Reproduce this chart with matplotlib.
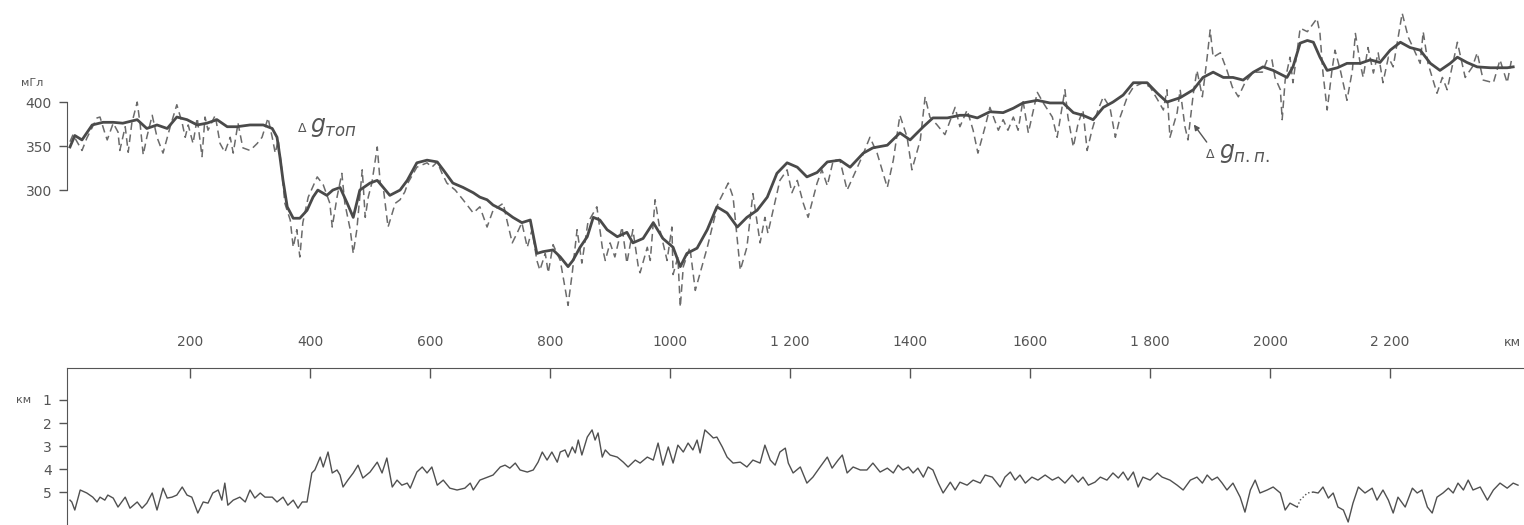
import matplotlib.pyplot as plt

# профиль: расстояние, км / аномалия, мГл
g_top = [(0, 349), (8, 362), (20, 357), (37, 374), (55, 377), (72, 377), (88, 376), (112, 380),
         (128, 370), (145, 374), (162, 370), (178, 383), (195, 380), (212, 374), (228, 376),
         (245, 380), (262, 372), (278, 372), (300, 374), (322, 374), (337, 370), (345, 360),
         (350, 337), (355, 311), (362, 281), (372, 268), (383, 268), (395, 277), (405, 292),
         (413, 300), (428, 294), (438, 300), (450, 303), (462, 285), (472, 269), (483, 300),
         (500, 308), (512, 311), (522, 303), (533, 294), (550, 300), (562, 311), (578, 331),
         (595, 334), (612, 332), (622, 323), (638, 308), (655, 303), (672, 297), (683, 292),
         (695, 289), (705, 283), (722, 277), (738, 269), (753, 263), (767, 266), (778, 228),
         (788, 230), (805, 232), (817, 224), (830, 213), (838, 220), (850, 235), (862, 247),
         (872, 269), (883, 266), (895, 255), (912, 247), (928, 252), (938, 240), (955, 245),
         (972, 263), (988, 245), (1005, 235), (1017, 213), (1028, 228), (1045, 234), (1062, 255),
         (1078, 281), (1095, 274), (1112, 258), (1128, 269), (1145, 277), (1162, 292), (1178, 319),
         (1195, 331), (1212, 326), (1228, 315), (1245, 320), (1262, 332), (1283, 334), (1300, 326),
         (1322, 342), (1338, 348), (1362, 351), (1383, 365), (1400, 357), (1422, 372), (1438, 382),
         (1462, 382), (1483, 385), (1495, 385), (1512, 382), (1533, 389), (1555, 388), (1572, 393),
         (1588, 399), (1612, 402), (1633, 399), (1655, 399), (1672, 388), (1688, 385), (1705, 380),
         (1722, 394), (1738, 400), (1755, 408), (1772, 422), (1795, 422), (1812, 410), (1828, 400),
         (1850, 405), (1872, 414), (1888, 428), (1905, 434), (1922, 428), (1938, 428), (1955, 425),
         (1972, 434), (1988, 440), (2005, 436), (2028, 428), (2038, 440), (2050, 467), (2062, 470),
         (2072, 468), (2083, 451), (2095, 436), (2112, 439), (2128, 444), (2150, 444), (2167, 448),
         (2183, 445), (2200, 459), (2217, 468), (2233, 462), (2250, 459), (2267, 444), (2283, 436),
         (2300, 444), (2312, 451), (2328, 445), (2345, 440), (2367, 439), (2395, 439), (2405, 440)]

g_pp = [(0, 355), (5, 363), (20, 345), (28, 359), (45, 382), (50, 383), (58, 365), (62, 357),
        (72, 376), (80, 366), (83, 345), (92, 372), (97, 343), (103, 376), (112, 400), (117, 374),
        (122, 340), (128, 360), (137, 385), (145, 360), (155, 342), (167, 372), (178, 397),
        (187, 376), (192, 360), (197, 374), (205, 353), (212, 382), (220, 338), (225, 383),
        (230, 368), (242, 385), (250, 353), (258, 343), (267, 360), (272, 342), (280, 376),
        (288, 348), (300, 345), (312, 353), (320, 360), (330, 382), (337, 360), (342, 342),
        (347, 357), (353, 323), (358, 285), (367, 266), (372, 235), (378, 255), (383, 224),
        (388, 263), (397, 292), (412, 315), (422, 306), (433, 285), (437, 258), (445, 292),
        (453, 319), (458, 285), (467, 255), (472, 228), (478, 255), (487, 323), (492, 269),
        (497, 292), (503, 308), (512, 349), (517, 308), (522, 303), (530, 258), (542, 285),
        (550, 289), (558, 298), (563, 308), (578, 326), (595, 331), (603, 326), (612, 332),
        (620, 319), (628, 308), (642, 300), (655, 289), (672, 274), (683, 281), (695, 258),
        (705, 277), (722, 285), (728, 266), (737, 240), (745, 251), (753, 263), (762, 235),
        (770, 255), (778, 220), (783, 209), (792, 228), (797, 206), (805, 238), (817, 220),
        (830, 169), (837, 206), (845, 255), (853, 217), (863, 263), (878, 281), (887, 235),
        (892, 220), (900, 240), (908, 224), (920, 258), (928, 217), (938, 255), (947, 213),
        (950, 206), (962, 235), (967, 220), (975, 289), (983, 255), (995, 220), (1003, 258),
        (1005, 204), (1013, 224), (1017, 167), (1022, 213), (1033, 235), (1042, 186), (1062, 235),
        (1080, 285), (1097, 308), (1105, 292), (1117, 209), (1128, 235), (1138, 296), (1150, 240),
        (1158, 269), (1163, 251), (1183, 311), (1195, 323), (1203, 297), (1212, 311), (1222, 285),
        (1230, 269), (1245, 308), (1253, 323), (1262, 305), (1272, 334), (1283, 334), (1295, 300),
        (1305, 315), (1320, 338), (1333, 360), (1345, 342), (1362, 303), (1372, 334), (1383, 385),
        (1395, 360), (1403, 323), (1417, 357), (1425, 406), (1433, 383), (1445, 374), (1458, 363),
        (1475, 394), (1483, 372), (1495, 391), (1505, 368), (1513, 342), (1525, 372), (1533, 394),
        (1547, 368), (1555, 380), (1563, 368), (1572, 383), (1580, 368), (1588, 402), (1597, 365),
        (1612, 411), (1622, 399), (1637, 383), (1645, 360), (1658, 414), (1663, 383), (1672, 349),
        (1680, 376), (1688, 391), (1695, 345), (1703, 368), (1713, 391), (1722, 406), (1733, 394),
        (1742, 360), (1750, 383), (1762, 406), (1772, 417), (1788, 422), (1800, 417), (1813, 402),
        (1822, 391), (1828, 414), (1833, 360), (1845, 388), (1850, 414), (1858, 372), (1863, 357),
        (1872, 410), (1878, 436), (1887, 406), (1895, 451), (1900, 482), (1905, 451), (1917, 456),
        (1928, 436), (1937, 417), (1947, 406), (1958, 422), (1972, 434), (1987, 434), (1995, 448),
        (2003, 448), (2008, 428), (2017, 414), (2020, 380), (2025, 425), (2033, 451), (2038, 422),
        (2050, 484), (2062, 480), (2078, 495), (2083, 478), (2088, 433), (2095, 391), (2103, 436),
        (2108, 459), (2117, 436), (2128, 402), (2137, 436), (2142, 478), (2150, 444), (2155, 428),
        (2163, 462), (2172, 433), (2180, 456), (2188, 422), (2197, 451), (2205, 440), (2220, 501),
        (2230, 474), (2242, 456), (2250, 444), (2255, 480), (2263, 444), (2278, 410), (2287, 428),
        (2295, 414), (2312, 468), (2325, 428), (2337, 440), (2345, 456), (2355, 425), (2372, 422),
        (2383, 448), (2395, 422), (2403, 451)]

# глубина, км
depth = [(0, 5.35), (3, 5.43), (8, 5.78), (17, 4.91), (28, 5.04), (38, 5.22), (45, 5.43), (50, 5.22),
         (58, 5.35), (63, 5.13), (72, 5.26), (80, 5.65), (92, 5.22), (100, 5.70), (112, 5.43),
         (120, 5.70), (128, 5.48), (137, 5.04), (145, 5.78), (155, 4.83), (162, 5.26), (170, 5.22),
         (178, 5.13), (187, 4.78), (195, 5.13), (203, 5.22), (213, 5.91), (222, 5.43), (230, 5.48),
         (238, 5.04), (247, 4.91), (253, 5.35), (258, 4.61), (263, 5.57), (272, 5.35), (283, 5.22),
         (292, 5.43), (300, 4.91), (308, 5.26), (317, 5.04), (325, 5.22), (337, 5.22), (345, 5.43),
         (355, 5.22), (363, 5.57), (372, 5.35), (380, 5.70), (387, 5.43), (395, 5.43), (403, 4.17),
         (408, 4.04), (417, 3.48), (422, 3.91), (430, 3.26), (437, 4.17), (445, 4.04), (450, 4.26),
         (455, 4.78), (463, 4.48), (472, 4.17), (480, 3.83), (488, 4.39), (500, 4.13), (512, 3.70),
         (520, 4.17), (528, 3.52), (537, 4.78), (545, 4.48), (553, 4.70), (562, 4.61), (567, 4.83),
         (578, 4.13), (587, 3.91), (595, 4.17), (603, 3.91), (612, 4.70), (622, 4.48), (633, 4.83),
         (645, 4.91), (658, 4.83), (667, 4.61), (672, 4.91), (683, 4.48), (705, 4.26), (717, 3.91),
         (725, 3.83), (733, 3.96), (742, 3.74), (750, 4.04), (762, 4.13), (772, 4.04), (780, 3.70),
         (787, 3.26), (795, 3.61), (803, 3.26), (812, 3.70), (817, 3.26), (825, 3.17), (830, 3.48),
         (837, 3.04), (842, 3.30), (847, 2.74), (853, 3.39), (862, 2.61), (870, 2.30), (875, 2.74),
         (880, 2.43), (887, 3.48), (892, 3.17), (900, 3.39), (912, 3.48), (922, 3.70), (930, 3.91),
         (942, 3.61), (950, 3.74), (962, 3.48), (972, 3.61), (980, 2.87), (988, 3.83), (997, 3.04),
         (1005, 3.74), (1013, 2.96), (1022, 3.26), (1030, 2.87), (1038, 3.17), (1045, 2.74),
         (1050, 3.30), (1058, 2.30), (1067, 2.52), (1072, 2.65), (1078, 2.61), (1087, 3.04),
         (1095, 3.48), (1105, 3.74), (1117, 3.70), (1128, 3.91), (1138, 3.61), (1150, 3.74),
         (1158, 2.96), (1167, 3.61), (1175, 3.83), (1183, 3.26), (1192, 3.09), (1197, 3.74),
         (1205, 4.17), (1217, 3.91), (1228, 4.61), (1238, 4.35), (1250, 3.91), (1262, 3.48),
         (1270, 3.96), (1280, 3.61), (1287, 3.39), (1295, 4.17), (1305, 3.91), (1317, 4.04),
         (1328, 4.04), (1338, 3.74), (1350, 4.13), (1362, 3.96), (1372, 4.17), (1380, 3.83),
         (1388, 4.04), (1397, 3.91), (1405, 4.17), (1413, 3.96), (1422, 4.35), (1430, 3.91),
         (1438, 4.04), (1447, 4.61), (1455, 5.04), (1467, 4.57), (1475, 4.91), (1483, 4.57),
         (1495, 4.70), (1505, 4.48), (1517, 4.61), (1525, 4.26), (1537, 4.35), (1545, 4.61),
         (1550, 4.78), (1558, 4.35), (1567, 4.13), (1575, 4.48), (1583, 4.26), (1592, 4.61),
         (1603, 4.35), (1613, 4.48), (1625, 4.26), (1637, 4.48), (1647, 4.35), (1658, 4.61),
         (1670, 4.26), (1680, 4.57), (1688, 4.35), (1697, 4.70), (1708, 4.57), (1717, 4.35),
         (1728, 4.48), (1738, 4.17), (1747, 4.39), (1755, 4.13), (1763, 4.48), (1772, 4.13),
         (1780, 4.78), (1788, 4.35), (1800, 4.48), (1812, 4.17), (1820, 4.35), (1833, 4.48),
         (1845, 4.70), (1855, 4.91), (1867, 4.48), (1878, 4.35), (1887, 4.61), (1895, 4.26),
         (1903, 4.48), (1912, 4.35), (1920, 4.61), (1928, 4.91), (1938, 4.61), (1950, 5.22),
         (1958, 5.87), (1967, 4.91), (1975, 4.48), (1983, 5.04), (1995, 4.91), (2005, 4.78),
         (2017, 5.04), (2025, 5.78), (2033, 5.48), (2045, 5.65), (2050, 5.35), (2062, 5.04),
         (2072, 5.00), (2080, 5.04), (2088, 4.78), (2097, 5.26), (2105, 5.04), (2113, 5.65),
         (2122, 5.78), (2130, 6.30), (2138, 5.48), (2147, 4.78), (2158, 5.04), (2170, 4.83),
         (2178, 5.35), (2188, 4.91), (2197, 5.35), (2205, 5.91), (2213, 5.22), (2225, 5.65),
         (2237, 4.83), (2245, 5.04), (2253, 4.91), (2262, 5.65), (2270, 5.91), (2278, 5.22),
         (2288, 5.04), (2297, 4.83), (2305, 5.04), (2313, 4.61), (2322, 4.91), (2330, 4.48),
         (2338, 4.91), (2350, 4.78), (2362, 5.35), (2372, 4.91), (2383, 4.61), (2395, 4.83),
         (2405, 4.61), (2413, 4.70)]
dotted_from, dotted_to = 2045, 2072   # участок, проведённый пунктиром

km_ticks = [200, 400, 600, 800, 1000, 1200, 1400, 1600, 1800, 2000, 2200]
km_labels = ['200', '400', '600', '800', '1000', '1 200', '1400', '1600', '1 800', '2000', '2 200']
g_ticks = [300, 350, 400]
depth_ticks = [1, 2, 3, 4, 5]

ink = '#555555'
W, H = 1524, 525

fig = plt.figure(figsize=(W / 100, H / 100), dpi=100)
ax = fig.add_axes([67 / W, 1 - 330 / H, (W - 67) / W, 330 / H])
axb = fig.add_axes([67 / W, 0, (W - 67) / W, 157 / H])

# верхний график
x, y = zip(*g_pp)
ax.plot(x, y, color='#6b6b6b', lw=1.1, dashes=(5, 3))
x, y = zip(*g_top)
ax.plot(x, y, color='#4a4a4a', lw=2.0, solid_joinstyle='round')

ax.set_xlim(-5, 2423)
ax.set_ylim(141, 516)
ax.patch.set_alpha(0)
for s in ['top', 'right', 'bottom']:
    ax.spines[s].set_visible(False)
ax.spines['left'].set_bounds(300, 400)
ax.spines['left'].set_color(ink)
ax.set_xticks([])
ax.set_yticks(g_ticks)
ax.tick_params(axis='y', length=6, width=1, color=ink, labelcolor=ink, labelsize=10, pad=5)

ax.text(380, 366, 'Δ', fontsize=9, color=ink, ha='left', va='baseline')
ax.text(400, 366, r'$g_{топ}$', fontsize=17, color=ink, ha='left', va='baseline')
ax.text(1893, 336, 'Δ', fontsize=9, color=ink, ha='left', va='baseline')
ax.text(1915, 336, r'$g_{п.п.}$', fontsize=17, color=ink, ha='left', va='baseline')
ax.annotate('', xy=(1870, 377), xytext=(1897, 352),
            arrowprops=dict(arrowstyle='-|>', color=ink, lw=1, mutation_scale=8))

# нижний график
left = [p for p in depth if p[0] <= dotted_from]
mid = [p for p in depth if dotted_from <= p[0] <= dotted_to]
right = [p for p in depth if p[0] >= dotted_to]
for part, style in [(left, '-'), (mid, ':'), (right, '-')]:
    x, y = zip(*part)
    axb.plot(x, y, color='#505050', lw=1.0, ls=style)
axb.set_xlim(-5, 2423)
axb.set_ylim(6.43, -0.39)
axb.spines['right'].set_visible(False)
axb.spines['bottom'].set_visible(False)
axb.spines['top'].set_color(ink)
axb.spines['left'].set_color(ink)
axb.xaxis.tick_top()
axb.set_xticks(km_ticks)
axb.set_xticklabels(km_labels)
axb.tick_params(axis='x', direction='in', length=7, width=1, color=ink, labelcolor=ink,
                labelsize=10, pad=14)
axb.set_yticks(depth_ticks)
axb.tick_params(axis='y', length=6, width=1, color=ink, labelcolor=ink, labelsize=10, pad=5)

fig.text(1512 / W, 1 - 343 / H, 'км', fontsize=9, color=ink, ha='center', va='center')
fig.text(32 / W, 1 - 83 / H, 'мГл', fontsize=8, color=ink, ha='center', va='center')
fig.text(24 / W, 1 - 400 / H, 'км', fontsize=8, color=ink, ha='center', va='center')

fig.savefig('out.png', dpi=100)
